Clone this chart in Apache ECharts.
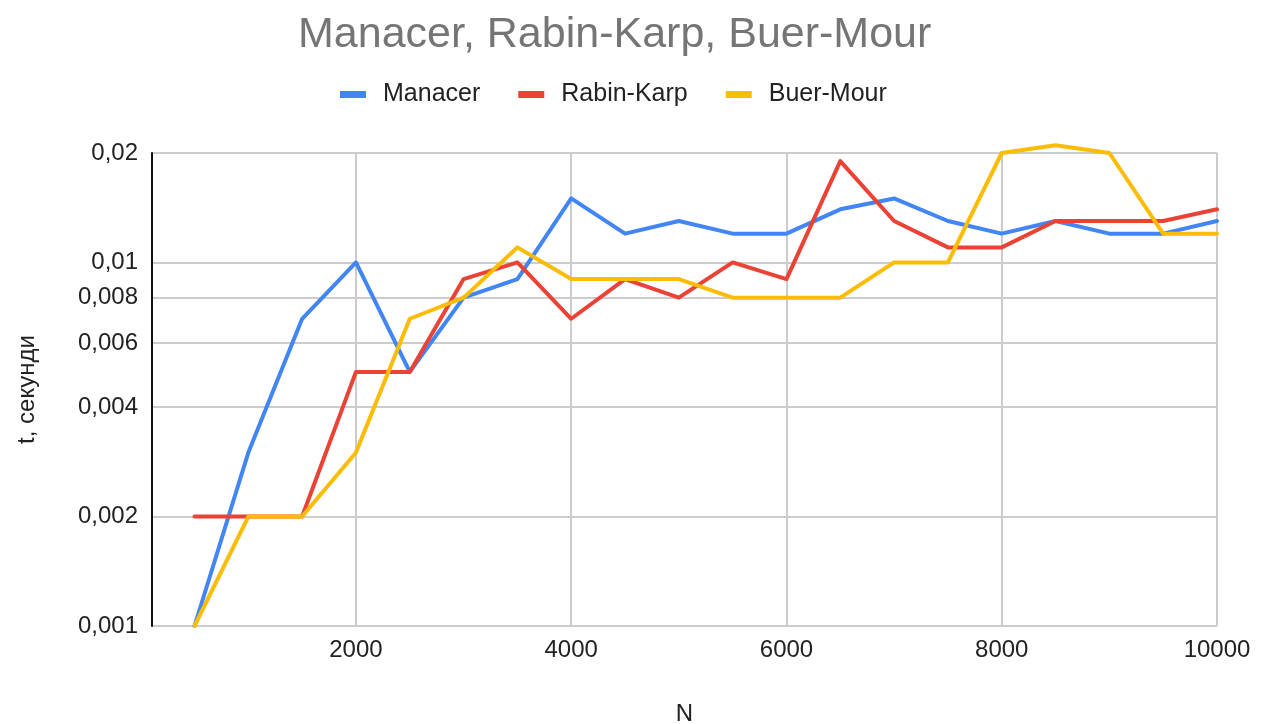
<!DOCTYPE html>
<html>
<head>
<meta charset="utf-8">
<script src="https://cdn.jsdelivr.net/npm/echarts@6/dist/echarts.min.js"></script>
<style>
html,body{margin:0;padding:0;background:#fff;}
#chart{width:1266px;height:724px;}
</style>
</head>
<body>
<div id="chart"></div>
<script>
var N = [500,1000,1500,2000,2500,3000,3500,4000,4500,5000,5500,6000,6500,7000,7500,8000,8500,9000,9500,10000];
var manacer   = [0.001,0.003,0.007,0.01,0.005,0.008,0.009,0.015,0.012,0.013,0.012,0.012,0.014,0.015,0.013,0.012,0.013,0.012,0.012,0.013];
var rabinKarp = [0.002,0.002,0.002,0.005,0.005,0.009,0.01,0.007,0.009,0.008,0.01,0.009,0.019,0.013,0.011,0.011,0.013,0.013,0.013,0.014];
var buerMour  = [0.001,0.002,0.002,0.003,0.007,0.008,0.011,0.009,0.009,0.009,0.008,0.008,0.008,0.01,0.01,0.02,0.021,0.02,0.012,0.012];
var xTicks = [2000,4000,6000,8000,10000];
var yTicks = [0.001,0.002,0.004,0.006,0.008,0.01,0.02];
var yTickLabels = ['0,001','0,002','0,004','0,006','0,008','0,01','0,02'];

function pairs(vals){ return N.map(function(n,i){ return [n, vals[i]]; }); }
function yLabel(v){
  var best = 0, bd = Infinity;
  for (var i=0;i<yTicks.length;i++){ var d = Math.abs(Math.log(v)-Math.log(yTicks[i])); if (d<bd){bd=d;best=i;} }
  return yTickLabels[best];
}
function xLabel(v){ return String(Math.round(v)); }
var FONT = '"Liberation Sans", Arial, sans-serif';
var chart = echarts.init(document.getElementById('chart'));
function lineSeries(name, vals, color){
  return {
    name: name, type: 'line', data: pairs(vals), showSymbol: false, clip: false,
    lineStyle: {color: color, width: 4, cap: 'round', join: 'round'},
    itemStyle: {color: color}
  };
}
chart.setOption({
  animation: false,
  backgroundColor: '#fff',
  textStyle: {fontFamily: FONT},
  title: {
    text: 'Manacer, Rabin-Karp, Buer-Mour',
    left: 293, top: 9,
    textStyle: {color: '#757575', fontSize: 43, fontWeight: 'normal', fontFamily: FONT}
  },
  legend: {
    left: 335, top: 77, icon: 'rect', itemWidth: 26, itemHeight: 7, itemGap: 38,
    textStyle: {color: '#222', fontSize: 25, fontFamily: FONT, padding: [0,0,0,12]},
    data: ['Manacer','Rabin-Karp','Buer-Mour']
  },
  grid: {left: 152, right: 49, top: 153, bottom: 98, containLabel: false, outerBoundsMode: 'none'},
  xAxis: {
    type: 'value', min: 105, max: 10000,
    name: 'N', nameLocation: 'middle', nameGap: 76,
    nameTextStyle: {color: '#222', fontSize: 24, fontFamily: FONT},
    axisLine: {show: false},
    axisTick: {show: false, customValues: xTicks},
    axisLabel: {customValues: xTicks, color: '#222', fontSize: 24, fontFamily: FONT, margin: 12, formatter: xLabel},
    splitLine: {show: true, lineStyle: {color: '#cccccc', width: 2}}
  },
  yAxis: {
    type: 'log', min: 0.001, max: 0.02,
    name: 't, секунди', nameLocation: 'middle', nameGap: 113,
    nameTextStyle: {color: '#222', fontSize: 24, fontFamily: FONT},
    axisLine: {show: true, lineStyle: {color: '#111', width: 2}},
    axisTick: {show: false, customValues: yTicks},
    axisLabel: {customValues: yTicks, color: '#222', fontSize: 24, fontFamily: FONT, margin: 14, formatter: yLabel},
    splitLine: {show: true, lineStyle: {color: '#cccccc', width: 2}}
  },
  series: [
    lineSeries('Manacer', manacer, '#4285F4'),
    lineSeries('Rabin-Karp', rabinKarp, '#EA4335'),
    lineSeries('Buer-Mour', buerMour, '#FBBC04')
  ]
});
</script>
</body>
</html>
